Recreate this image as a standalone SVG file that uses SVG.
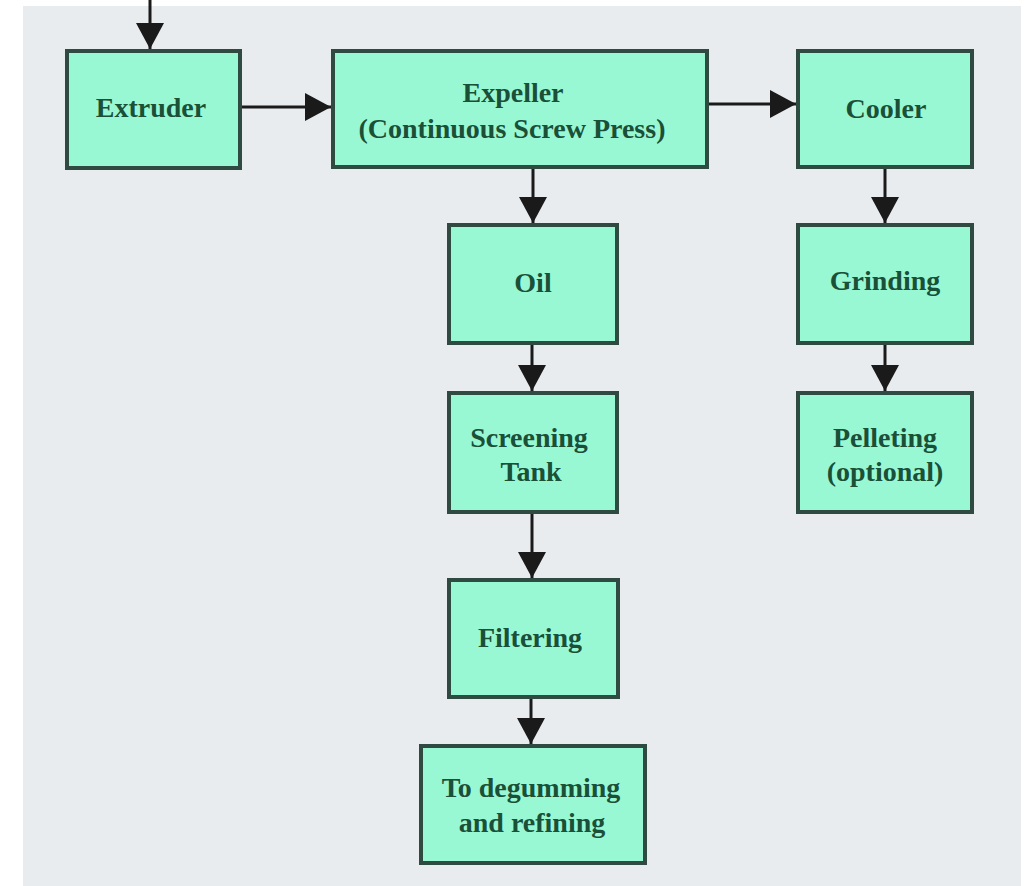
<svg xmlns="http://www.w3.org/2000/svg" width="1033" height="886" viewBox="0 0 1033 886">
  <defs>
    <style>
      .box { fill: #99f8d4; stroke: #2f4a41; stroke-width: 4; }
      .lbl { font-family: "Liberation Serif", "Times New Roman", serif; font-weight: bold; font-size: 28px; fill: #1a5038; text-anchor: middle; }
      .conn { stroke: #1a1a1a; stroke-width: 3; fill: none; marker-end: url(#arrow); }
    </style>
    <marker id="arrow" viewBox="0 0 26 28" refX="26" refY="14" markerWidth="26" markerHeight="28" markerUnits="userSpaceOnUse" orient="auto">
      <path d="M0,0 L26,14 L0,28 z" fill="#1a1a1a"/>
    </marker>
  </defs>

  <rect x="0" y="0" width="1033" height="886" fill="#ffffff"/>
  <rect x="23" y="6" width="998" height="880" fill="#e9ecef"/>

  <g id="connectors">
    <line class="conn" x1="150" y1="0" x2="150" y2="49"/>
    <line class="conn" x1="242" y1="107" x2="331" y2="107"/>
    <line class="conn" x1="709" y1="104" x2="796" y2="104"/>
    <line class="conn" x1="533" y1="169" x2="533" y2="223"/>
    <line class="conn" x1="885" y1="169" x2="885" y2="223"/>
    <line class="conn" x1="532" y1="345" x2="532" y2="391"/>
    <line class="conn" x1="885" y1="345" x2="885" y2="391"/>
    <line class="conn" x1="532" y1="514" x2="532" y2="578"/>
    <line class="conn" x1="531" y1="699" x2="531" y2="744"/>
  </g>

  <g id="extruder">
    <rect class="box" x="67" y="51" width="173" height="117"/>
    <text class="lbl" x="151" y="117">Extruder</text>
  </g>

  <g id="expeller">
    <rect class="box" x="333" y="51" width="374" height="116"/>
    <text class="lbl" x="513" y="102">Expeller</text>
    <text class="lbl" x="512" y="138">(Continuous Screw Press)</text>
  </g>

  <g id="cooler">
    <rect class="box" x="798" y="51" width="174" height="116"/>
    <text class="lbl" x="886" y="118">Cooler</text>
  </g>

  <g id="oil">
    <rect class="box" x="449" y="225" width="168" height="118"/>
    <text class="lbl" x="533" y="292">Oil</text>
  </g>

  <g id="grinding">
    <rect class="box" x="798" y="225" width="174" height="118"/>
    <text class="lbl" x="885" y="290">Grinding</text>
  </g>

  <g id="screening-tank">
    <rect class="box" x="449" y="393" width="168" height="119"/>
    <text class="lbl" x="529" y="447">Screening</text>
    <text class="lbl" x="531" y="481">Tank</text>
  </g>

  <g id="pelleting">
    <rect class="box" x="798" y="393" width="174" height="119"/>
    <text class="lbl" x="885" y="447">Pelleting</text>
    <text class="lbl" x="885" y="481">(optional)</text>
  </g>

  <g id="filtering">
    <rect class="box" x="449" y="580" width="169" height="117"/>
    <text class="lbl" x="530" y="647">Filtering</text>
  </g>

  <g id="degumming">
    <rect class="box" x="421" y="746" width="224" height="117"/>
    <text class="lbl" x="531" y="797">To degumming</text>
    <text class="lbl" x="532" y="832">and refining</text>
  </g>
</svg>
